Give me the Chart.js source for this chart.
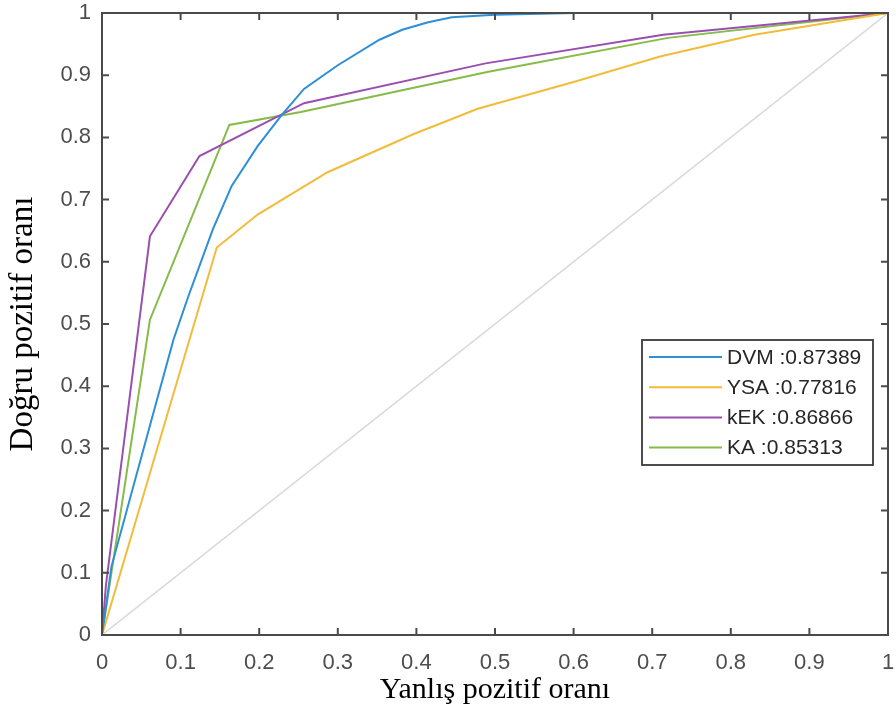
<!DOCTYPE html>
<html>
<head>
<meta charset="utf-8">
<script src="https://cdn.jsdelivr.net/npm/chart.js@4.4.0/dist/chart.umd.min.js"></script>
<style>
  html, body { margin: 0; padding: 0; background: #fff; }
  #wrap { width: 896px; height: 709px; }
</style>
</head>
<body>
<div id="wrap"><canvas id="roc"></canvas></div>
<script>
// ROC eğrileri
const seriesLabels = ['DVM :0.87389', 'YSA :0.77816', 'kEK :0.86866', 'KA :0.85313'];
const seriesColors = ['#2E8FD6', '#F1BC3A', '#9A4FB0', '#86BB48'];

const dvmX = [0, 0.012, 0.063, 0.091, 0.110, 0.141, 0.165, 0.198, 0.228, 0.257, 0.300, 0.353, 0.382, 0.415, 0.445, 0.500, 0.600, 1];
const dvmY = [0, 0.110, 0.346, 0.475, 0.545, 0.652, 0.722, 0.786, 0.835, 0.878, 0.916, 0.957, 0.973, 0.985, 0.993, 0.997, 1.000, 1];

const ysaX = [0, 0.146, 0.198, 0.287, 0.396, 0.478, 0.600, 0.710, 0.830, 1];
const ysaY = [0, 0.623, 0.676, 0.744, 0.805, 0.846, 0.889, 0.930, 0.965, 1];

const kekX = [0, 0.005, 0.061, 0.124, 0.257, 0.488, 0.714, 1];
const kekY = [0, 0.080, 0.641, 0.770, 0.855, 0.919, 0.965, 1];

const kaX = [0, 0.061, 0.162, 0.253, 0.490, 0.720, 1];
const kaY = [0, 0.507, 0.820, 0.841, 0.905, 0.960, 1];

const refX = [0, 1];
const refY = [0, 1];

const tickValues = [0, 0.1, 0.2, 0.3, 0.4, 0.5, 0.6, 0.7, 0.8, 0.9, 1];
const xTitle = 'Yanlış pozitif oranı';
const yTitle = 'Doğru pozitif oranı';

const toPts = (xs, ys) => xs.map((x, i) => ({ x: x, y: ys[i] }));
const allX = [dvmX, ysaX, kekX, kaX];
const allY = [dvmY, ysaY, kekY, kaY];

const datasets = seriesLabels.map((lbl, i) => ({
    label: lbl,
    data: toPts(allX[i], allY[i]),
    borderColor: seriesColors[i],
    backgroundColor: seriesColors[i],
    borderWidth: 2,
    pointRadius: 0,
    tension: 0,
    fill: false
}));
// çapraz referans çizgisi (lejantta yok)
datasets.unshift({
    label: '_ref',
    data: toPts(refX, refY),
    borderColor: '#D9D9D9',
    borderWidth: 1.5,
    pointRadius: 0,
    fill: false
});

const axisColor = '#4a4a4a';
const tickFont = { family: 'Liberation Sans, Arial, sans-serif', size: 22 };

// kutu, iç tikler ve lejant
const boxPlugin = {
    id: 'boxPlugin',
    afterDatasetsDraw(chart) {
        const { ctx, chartArea: a, scales } = chart;
        ctx.save();
        ctx.strokeStyle = axisColor;
        ctx.lineWidth = 2;
        ctx.strokeRect(a.left, a.top, a.right - a.left, a.bottom - a.top);
        const tl = 7;
        ctx.beginPath();
        tickValues.forEach(v => {
            const px = scales.x.getPixelForValue(v);
            ctx.moveTo(px, a.bottom); ctx.lineTo(px, a.bottom - tl);
            ctx.moveTo(px, a.top); ctx.lineTo(px, a.top + tl);
            const py = scales.y.getPixelForValue(v);
            ctx.moveTo(a.left, py); ctx.lineTo(a.left + tl, py);
            ctx.moveTo(a.right, py); ctx.lineTo(a.right - tl, py);
        });
        ctx.stroke();

        // lejant
        const bx = a.right - 246, by = 340, bw = 231, bh = 125;
        ctx.fillStyle = '#fff';
        ctx.fillRect(bx, by, bw, bh);
        ctx.strokeStyle = '#3a3a3a';
        ctx.lineWidth = 1.8;
        ctx.strokeRect(bx, by, bw, bh);
        ctx.font = '21px "Liberation Sans", Arial, sans-serif';
        ctx.textBaseline = 'middle';
        seriesLabels.forEach((lbl, i) => {
            const ry = by + 17 + i * 30.2;
            ctx.strokeStyle = seriesColors[i];
            ctx.lineWidth = 2;
            ctx.beginPath();
            ctx.moveTo(bx + 7, ry); ctx.lineTo(bx + 80, ry);
            ctx.stroke();
            ctx.fillStyle = '#262626';
            ctx.fillText(lbl, bx + 85, ry + 1);
        });
        ctx.restore();
    }
};

new Chart(document.getElementById('roc'), {
    type: 'line',
    data: { datasets },
    plugins: [boxPlugin],
    options: {
        responsive: true,
        maintainAspectRatio: false,
        animation: false,
        layout: { padding: { top: 13, right: 8, left: 0, bottom: 0 } },
        plugins: {
            legend: { display: false },
            tooltip: { enabled: false }
        },
        scales: {
            x: {
                type: 'linear',
                min: 0, max: 1,
                grid: { display: false, drawTicks: false },
                border: { display: false },
                afterFit: s => { s.height = 74; s.paddingLeft = 0; s.paddingRight = 0; },
                afterBuildTicks: s => { s.ticks = tickValues.map(v => ({ value: v })); },
                ticks: {
                    color: '#4d4d4d',
                    font: tickFont,
                    padding: 15,
                    maxRotation: 0,
                    callback: v => String(+v.toFixed(1))
                },
                title: {
                    display: true,
                    text: xTitle,
                    color: '#000',
                    font: { family: 'Liberation Serif, Times New Roman, serif', size: 30 },
                    padding: { top: 0, bottom: 1 }
                }
            },
            y: {
                type: 'linear',
                min: 0, max: 1,
                grid: { display: false, drawTicks: false },
                border: { display: false },
                afterFit: s => { s.width = 102; s.paddingTop = 0; s.paddingBottom = 0; },
                afterBuildTicks: s => { s.ticks = tickValues.map(v => ({ value: v })); },
                ticks: {
                    color: '#4d4d4d',
                    font: tickFont,
                    padding: 11,
                    callback: v => String(+v.toFixed(1))
                },
                title: {
                    display: true,
                    text: yTitle,
                    color: '#000',
                    font: { family: 'Liberation Serif, Times New Roman, serif', size: 33 },
                    padding: { top: 4, bottom: 0 }
                }
            }
        }
    }
});
</script>
</body>
</html>
